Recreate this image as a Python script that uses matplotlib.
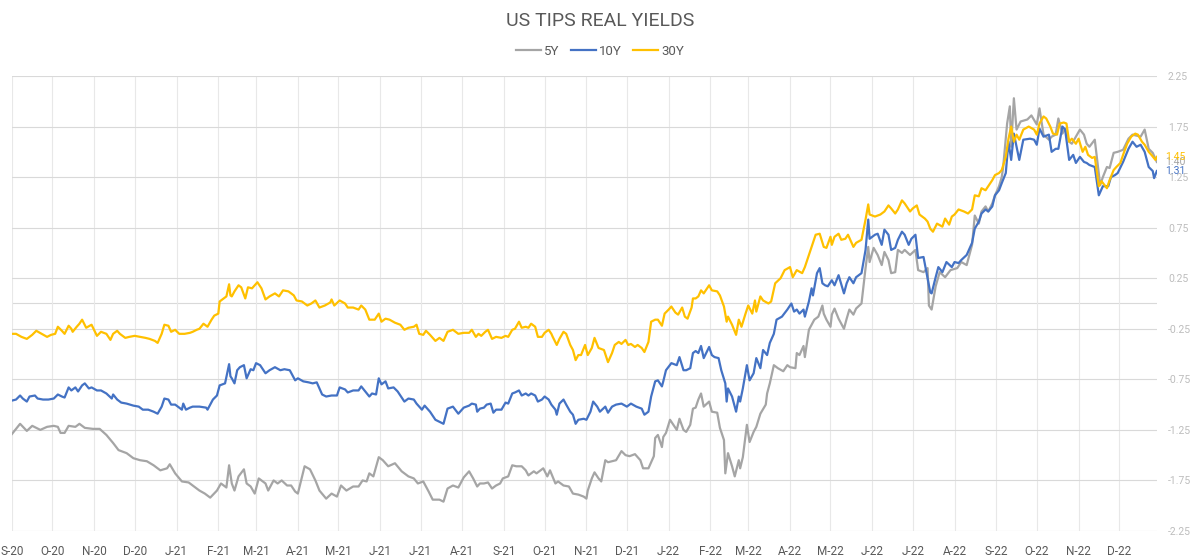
import numpy as np
import pandas as pd
from matplotlib import pyplot as plt

# series: day offset from 1 Sep 2020, real yield in %
start = pd.Timestamp("2020-09-01")

days_5y = [0, 6, 11, 15, 21, 26, 31, 34, 36, 39, 42, 47, 50, 54, 60, 65, 70, 75, 79, 85,
           90, 95, 100, 105, 110, 115, 117, 121, 126, 131, 134, 139, 143, 147, 152, 155, 159, 161, 163, 165,
           168, 172, 174, 177, 180, 183, 188, 190, 194, 197, 200, 204, 207, 210, 212, 217, 221, 225, 228, 233,
           237, 241, 244, 248, 253, 257, 260, 263, 265, 268, 272, 275, 279, 284, 289, 294, 298, 301, 305, 309,
           312, 317, 320, 323, 327, 331, 335, 339, 342, 345, 347, 350, 353, 356, 359, 362, 364, 368, 371, 374,
           378, 381, 383, 387, 389, 392, 394, 397, 399, 403, 405, 409, 413, 416, 420, 424, 426, 427, 430, 432,
           435, 437, 440, 442, 445, 448, 452, 455, 458, 462, 466, 468, 472, 476, 477, 479, 482, 483, 485, 488,
           490, 493, 495, 498, 500, 503, 505, 507, 509, 511, 513, 517, 519, 523, 525, 528, 529, 531, 534, 536,
           539, 540, 542, 545, 547, 550, 552, 555, 559, 560, 562, 565, 568, 572, 575, 577, 581, 582, 584, 587,
           588, 591, 595, 598, 601, 602, 604, 607, 608, 610, 613, 617, 619, 621, 624, 626, 630, 633, 635, 636,
           639, 642, 645, 647, 650, 652, 655, 657, 660, 662, 666, 670, 672, 676, 679, 680, 682, 685, 688, 692,
           696, 701, 704, 708, 712, 714, 717, 719, 722, 724, 727, 729, 732, 734, 735, 738, 740, 741, 743, 745,
           748, 753, 756, 760, 762, 765, 769, 771, 774, 776, 779, 781, 784, 786, 789, 792, 795, 797, 799, 803,
           807, 809, 812, 814, 817, 820, 824, 828, 831, 837, 840, 843, 846, 849]
yld_5y = [-1.29, -1.19, -1.26, -1.21, -1.25, -1.22, -1.21, -1.22, -1.28, -1.28, -1.21, -1.22, -1.19, -1.23, -1.24, -1.24, -1.30, -1.38, -1.45, -1.48,
          -1.53, -1.55, -1.56, -1.60, -1.65, -1.63, -1.59, -1.68, -1.76, -1.77, -1.80, -1.85, -1.88, -1.92, -1.85, -1.78, -1.82, -1.60, -1.78, -1.85,
          -1.71, -1.64, -1.78, -1.81, -1.88, -1.73, -1.78, -1.85, -1.75, -1.78, -1.75, -1.80, -1.80, -1.86, -1.88, -1.61, -1.64, -1.75, -1.85, -1.93,
          -1.88, -1.91, -1.80, -1.85, -1.81, -1.81, -1.75, -1.76, -1.68, -1.71, -1.52, -1.55, -1.61, -1.58, -1.66, -1.71, -1.73, -1.78, -1.76, -1.86,
          -1.94, -1.94, -1.96, -1.83, -1.80, -1.82, -1.72, -1.66, -1.73, -1.81, -1.78, -1.78, -1.77, -1.83, -1.80, -1.78, -1.73, -1.71, -1.60, -1.61,
          -1.61, -1.65, -1.70, -1.66, -1.68, -1.65, -1.63, -1.71, -1.65, -1.78, -1.76, -1.80, -1.81, -1.88, -1.89, -1.91, -1.93, -1.85, -1.73, -1.67,
          -1.73, -1.76, -1.55, -1.57, -1.56, -1.55, -1.46, -1.50, -1.51, -1.49, -1.55, -1.63, -1.63, -1.51, -1.33, -1.30, -1.42, -1.32, -1.28, -1.15,
          -1.19, -1.25, -1.14, -1.25, -1.27, -1.20, -1.04, -1.03, -0.95, -0.89, -1.02, -0.97, -1.07, -1.08, -1.23, -1.35, -1.68, -1.48, -1.61, -1.71,
          -1.55, -1.63, -1.52, -1.20, -1.37, -1.27, -1.22, -1.09, -1.00, -0.89, -0.79, -0.61, -0.64, -0.67, -0.61, -0.63, -0.64, -0.49, -0.51, -0.42,
          -0.53, -0.26, -0.16, -0.13, -0.02, -0.10, -0.16, -0.23, -0.11, -0.05, -0.15, -0.25, -0.15, -0.06, -0.11, -0.05, 0.00, 0.35, 0.56, 0.41,
          0.55, 0.48, 0.38, 0.51, 0.43, 0.30, 0.31, 0.53, 0.50, 0.53, 0.48, 0.53, 0.33, 0.31, 0.35, -0.02, -0.06, 0.17, 0.31, 0.26,
          0.33, 0.35, 0.41, 0.38, 0.58, 0.87, 0.79, 0.91, 0.96, 0.91, 0.99, 1.07, 1.16, 1.25, 1.34, 1.78, 1.95, 1.55, 2.03, 1.72,
          1.80, 1.82, 1.86, 1.77, 1.93, 1.67, 1.62, 1.65, 1.67, 1.83, 1.68, 1.73, 1.60, 1.58, 1.65, 1.72, 1.67, 1.58, 1.55, 1.62,
          1.17, 1.25, 1.35, 1.34, 1.49, 1.50, 1.52, 1.63, 1.67, 1.65, 1.72, 1.53, 1.49, 1.40]

days_10y = [0, 3, 6, 8, 11, 13, 17, 19, 23, 27, 31, 34, 37, 39, 42, 44, 47, 49, 52, 54,
            57, 59, 63, 66, 70, 74, 75, 78, 81, 85, 90, 94, 97, 101, 105, 108, 111, 113, 116, 118,
            121, 126, 127, 129, 132, 134, 139, 144, 145, 149, 152, 154, 158, 161, 162, 163, 165, 167, 169, 172,
            174, 177, 179, 181, 184, 188, 191, 195, 199, 202, 206, 210, 212, 216, 220, 223, 226, 230, 233, 237,
            241, 243, 247, 249, 253, 257, 259, 262, 265, 267, 270, 272, 274, 277, 279, 283, 286, 291, 294, 298,
            300, 304, 306, 310, 314, 317, 320, 323, 327, 331, 335, 339, 341, 344, 345, 347, 350, 352, 355, 357,
            359, 363, 366, 368, 371, 373, 376, 378, 381, 383, 385, 388, 390, 393, 395, 398, 400, 403, 404, 406,
            409, 411, 414, 416, 418, 420, 424, 426, 429, 431, 434, 436, 440, 442, 445, 448, 452, 456, 459, 463,
            467, 469, 472, 474, 477, 479, 482, 483, 485, 489, 493, 495, 498, 500, 503, 505, 507, 509, 511, 513,
            517, 519, 521, 524, 526, 529, 530, 531, 534, 537, 539, 540, 542, 545, 547, 550, 552, 555, 557, 560,
            562, 565, 567, 571, 575, 578, 580, 582, 584, 587, 588, 591, 593, 594, 597, 599, 601, 603, 605, 608,
            610, 613, 617, 619, 621, 624, 626, 630, 633, 635, 636, 640, 642, 645, 647, 650, 652, 655, 657, 660,
            662, 665, 667, 670, 672, 676, 680, 681, 682, 685, 687, 690, 693, 697, 699, 702, 704, 708, 712, 714,
            717, 719, 722, 724, 727, 729, 732, 734, 737, 739, 741, 743, 745, 747, 750, 755, 758, 760, 762, 765,
            769, 771, 774, 776, 779, 781, 784, 787, 789, 792, 795, 797, 799, 803, 806, 809, 813, 815, 818, 820,
            824, 828, 831, 834, 837, 840, 843, 846, 847, 849]
yld_10y = [-0.96, -0.95, -0.91, -0.94, -0.97, -0.92, -0.91, -0.94, -0.95, -0.95, -0.94, -0.90, -0.92, -0.93, -0.83, -0.86, -0.83, -0.87, -0.81, -0.79,
           -0.84, -0.83, -0.86, -0.86, -0.89, -0.94, -0.90, -0.95, -0.98, -0.99, -1.01, -1.02, -1.05, -1.05, -1.07, -1.09, -1.02, -0.94, -0.95, -1.00,
           -1.00, -1.05, -0.99, -1.05, -1.03, -1.02, -1.02, -1.03, -1.05, -0.95, -0.91, -0.81, -0.79, -0.60, -0.72, -0.74, -0.79, -0.66, -0.63, -0.61,
           -0.74, -0.65, -0.66, -0.59, -0.61, -0.69, -0.66, -0.63, -0.66, -0.65, -0.66, -0.76, -0.74, -0.77, -0.78, -0.79, -0.78, -0.90, -0.92, -0.91,
           -0.91, -0.83, -0.85, -0.88, -0.86, -0.86, -0.82, -0.87, -0.92, -0.89, -0.90, -0.74, -0.80, -0.77, -0.84, -0.83, -0.87, -0.97, -0.94, -0.95,
           -0.99, -1.05, -1.01, -1.07, -1.15, -1.17, -1.19, -1.04, -1.02, -1.09, -1.03, -1.01, -0.99, -1.00, -1.07, -1.04, -1.03, -1.00, -0.99, -1.08,
           -1.05, -1.05, -0.98, -0.99, -0.89, -0.88, -0.86, -0.91, -0.89, -0.91, -0.89, -0.91, -0.97, -0.95, -0.92, -0.95, -1.00, -1.05, -1.10, -0.99,
           -0.95, -1.00, -1.07, -1.10, -1.19, -1.15, -1.14, -1.15, -1.07, -0.97, -1.02, -1.07, -1.02, -1.08, -1.02, -1.00, -0.99, -1.02, -0.99, -1.02,
           -1.04, -1.10, -1.07, -0.92, -0.77, -0.76, -0.82, -0.77, -0.66, -0.59, -0.61, -0.53, -0.66, -0.66, -0.64, -0.49, -0.47, -0.49, -0.42, -0.54,
           -0.43, -0.51, -0.53, -0.54, -0.66, -0.79, -0.97, -0.84, -0.92, -1.07, -0.92, -0.97, -0.84, -0.61, -0.76, -0.69, -0.54, -0.64, -0.46, -0.51,
           -0.39, -0.30, -0.16, -0.13, -0.06, 0.00, -0.08, -0.06, -0.10, -0.06, -0.13, 0.02, 0.15, 0.08, 0.30, 0.35, 0.20, 0.18, 0.17, 0.23,
           0.18, 0.28, 0.10, 0.20, 0.26, 0.20, 0.26, 0.30, 0.53, 0.83, 0.64, 0.68, 0.69, 0.58, 0.73, 0.68, 0.53, 0.55, 0.63, 0.71,
           0.68, 0.58, 0.64, 0.68, 0.45, 0.46, 0.18, 0.11, 0.10, 0.26, 0.36, 0.31, 0.41, 0.36, 0.41, 0.40, 0.43, 0.48, 0.60, 0.74,
           0.81, 0.89, 0.93, 0.91, 0.96, 1.07, 1.12, 1.19, 1.29, 1.60, 1.42, 1.68, 1.55, 1.42, 1.62, 1.63, 1.62, 1.57, 1.73, 1.65,
           1.67, 1.50, 1.53, 1.53, 1.75, 1.72, 1.42, 1.47, 1.39, 1.45, 1.40, 1.39, 1.37, 1.35, 1.07, 1.16, 1.16, 1.25, 1.27, 1.29,
           1.40, 1.53, 1.60, 1.55, 1.57, 1.50, 1.35, 1.31, 1.24, 1.31]

days_30y = [0, 3, 7, 11, 15, 18, 22, 26, 29, 32, 34, 37, 39, 42, 44, 45, 48, 50, 52, 55,
            59, 63, 66, 70, 73, 75, 78, 80, 84, 87, 91, 95, 99, 102, 106, 108, 111, 113, 116, 118,
            121, 124, 128, 132, 134, 137, 139, 142, 145, 148, 150, 153, 154, 157, 159, 161, 162, 163, 165, 168,
            170, 173, 175, 178, 180, 182, 185, 188, 191, 195, 198, 201, 205, 209, 211, 215, 219, 222, 225, 228,
            232, 236, 237, 239, 243, 247, 249, 253, 257, 259, 262, 265, 269, 272, 274, 277, 280, 284, 288, 291,
            294, 298, 300, 302, 305, 307, 310, 314, 317, 320, 323, 327, 331, 335, 339, 341, 344, 346, 348, 351,
            353, 356, 359, 363, 366, 368, 371, 373, 376, 378, 381, 383, 385, 388, 390, 393, 395, 398, 400, 401,
            404, 406, 409, 411, 414, 416, 418, 420, 422, 425, 427, 430, 432, 435, 439, 442, 445, 447, 450, 452,
            455, 457, 459, 462, 464, 467, 469, 472, 474, 477, 479, 482, 484, 487, 489, 492, 494, 497, 499, 501,
            504, 505, 507, 509, 511, 513, 517, 519, 523, 525, 528, 530, 531, 534, 537, 539, 541, 544, 546, 549,
            551, 552, 555, 557, 561, 563, 566, 570, 573, 577, 579, 582, 586, 588, 591, 593, 596, 599, 602, 604,
            607, 608, 610, 613, 615, 618, 620, 624, 626, 630, 633, 635, 636, 640, 644, 647, 650, 652, 655, 657,
            660, 662, 666, 668, 671, 673, 677, 679, 681, 683, 686, 690, 692, 695, 697, 699, 702, 706, 709, 712,
            714, 717, 719, 722, 724, 727, 729, 732, 734, 737, 739, 741, 743, 745, 747, 750, 754, 758, 760, 762,
            765, 767, 770, 772, 775, 777, 780, 782, 784, 786, 789, 791, 794, 796, 798, 801, 803, 806, 808, 812,
            814, 817, 819, 822, 824, 827, 830, 833, 835, 838, 840, 843, 845, 848, 849]
yld_30y = [-0.30, -0.30, -0.33, -0.35, -0.31, -0.27, -0.30, -0.33, -0.31, -0.30, -0.23, -0.27, -0.30, -0.22, -0.25, -0.28, -0.23, -0.20, -0.16, -0.24,
           -0.21, -0.32, -0.28, -0.30, -0.36, -0.30, -0.27, -0.30, -0.34, -0.33, -0.32, -0.33, -0.34, -0.35, -0.37, -0.39, -0.30, -0.21, -0.22, -0.28,
           -0.26, -0.30, -0.30, -0.29, -0.28, -0.26, -0.25, -0.20, -0.23, -0.16, -0.12, -0.10, 0.02, 0.05, 0.07, 0.19, 0.08, 0.07, 0.12, 0.18,
           0.16, 0.05, 0.16, 0.15, 0.18, 0.21, 0.15, 0.04, 0.07, 0.10, 0.07, 0.13, 0.12, 0.08, 0.03, 0.02, -0.02, 0.00, 0.03, -0.04,
           -0.02, 0.01, 0.04, -0.02, 0.03, 0.00, -0.04, -0.04, -0.06, -0.02, -0.06, -0.16, -0.16, -0.10, -0.18, -0.15, -0.16, -0.19, -0.21, -0.26,
           -0.24, -0.23, -0.21, -0.30, -0.31, -0.27, -0.31, -0.37, -0.34, -0.37, -0.28, -0.26, -0.30, -0.29, -0.29, -0.26, -0.33, -0.30, -0.32, -0.28,
           -0.26, -0.35, -0.33, -0.34, -0.32, -0.33, -0.26, -0.25, -0.18, -0.24, -0.23, -0.24, -0.20, -0.23, -0.33, -0.33, -0.29, -0.26, -0.30, -0.33,
           -0.41, -0.35, -0.28, -0.30, -0.41, -0.46, -0.56, -0.51, -0.51, -0.41, -0.51, -0.44, -0.34, -0.44, -0.46, -0.58, -0.49, -0.41, -0.38, -0.40,
           -0.36, -0.41, -0.40, -0.43, -0.41, -0.44, -0.48, -0.38, -0.18, -0.16, -0.16, -0.22, -0.10, -0.06, -0.03, -0.09, -0.11, -0.04, -0.13, -0.15,
           -0.04, 0.05, 0.05, 0.07, 0.13, 0.10, 0.18, 0.13, 0.12, 0.08, -0.03, -0.18, -0.13, -0.21, -0.31, -0.16, -0.23, -0.10, -0.02, -0.10,
           0.03, -0.08, 0.07, 0.03, 0.00, 0.02, 0.20, 0.25, 0.33, 0.36, 0.26, 0.33, 0.30, 0.36, 0.48, 0.56, 0.68, 0.69, 0.56, 0.55,
           0.66, 0.58, 0.66, 0.69, 0.63, 0.64, 0.68, 0.56, 0.60, 0.63, 0.83, 0.98, 0.88, 0.86, 0.88, 0.91, 0.97, 0.94, 0.89, 0.93,
           1.02, 0.99, 0.91, 0.94, 0.97, 0.88, 0.84, 0.81, 0.74, 0.71, 0.79, 0.76, 0.84, 0.78, 0.86, 0.88, 0.93, 0.91, 0.89, 0.93,
           1.07, 1.06, 1.14, 1.12, 1.16, 1.22, 1.27, 1.29, 1.32, 1.45, 1.63, 1.75, 1.60, 1.67, 1.62, 1.72, 1.75, 1.72, 1.67, 1.78,
           1.85, 1.83, 1.75, 1.68, 1.67, 1.78, 1.79, 1.78, 1.60, 1.63, 1.58, 1.63, 1.50, 1.55, 1.47, 1.44, 1.45, 1.16, 1.21, 1.14,
           1.22, 1.32, 1.35, 1.39, 1.47, 1.58, 1.65, 1.68, 1.67, 1.60, 1.57, 1.50, 1.47, 1.42, 1.45]

series_names = ["5Y", "10Y", "30Y"]
series_colors = ["#A5A5A5", "#4472C4", "#FFC000"]
y_ticks = [2.25, 1.75, 1.25, 0.75, 0.25, -0.25, -0.75, -1.25, -1.75, -2.25]

plt.rcParams['font.family'] = ['Roboto', 'DejaVu Sans']

fig = plt.figure(figsize=(12, 5.58), dpi=100)
ax = fig.add_axes([0.01, 0.0484, 0.954, 0.8154])

all_days = [days_5y, days_10y, days_30y]
all_vals = [yld_5y, yld_10y, yld_30y]

for d, v, name, col in zip(all_days, all_vals, series_names, series_colors):
    dates = start + pd.to_timedelta(d, unit="D")
    ax.plot(dates, v, color=col, lw=1.6, label=name)

# end-of-series value labels (they sit on top of the axis labels, as in the original)
for d, v, col in zip(all_days, all_vals, series_colors):
    ax.annotate(f"{v[-1]:.2f}", xy=(start + pd.Timedelta(days=d[-1]), v[-1]),
                xytext=(6, 0), textcoords="offset points", va="center", ha="left",
                color=col, fontsize=7.5, annotation_clip=False)

# axes
ax.set_ylim(-2.25, 2.25)
ax.set_xlim(start, start + pd.Timedelta(days=849))
ax.set_yticks(y_ticks)
ax.set_yticklabels([f"{t:.2f}" for t in y_ticks])
ax.yaxis.tick_right()

months = pd.date_range("2020-09-01", "2022-12-01", freq="MS")
ax.set_xticks(months)
ax.set_xticklabels([m.strftime("%b")[0] + "-" + m.strftime("%y") for m in months])

for s in ['top', 'bottom', 'left', 'right']:
    ax.spines[s].set_visible(False)
ax.tick_params(axis='y', length=0, pad=8, labelsize=7.5, labelcolor="#BDBDBD")
ax.tick_params(axis='x', length=0, pad=10, labelsize=8.5, labelcolor="#595959")

ax.grid(axis='y', color="#D9D9D9", lw=0.8)
ax.grid(axis='x', color="#E8E8E8", lw=0.8)
ax.axhline(0, color="#D9D9D9", lw=0.8, zorder=0)
ax.set_axisbelow(True)

fig.text(0.5, 0.962, "US TIPS REAL YIELDS", ha="center", va="center",
         fontsize=14, color="#595959")
fig.legend(loc="center", bbox_to_anchor=(0.5, 0.908), ncol=3, frameon=False,
           fontsize=9.5, labelcolor="#595959", handlelength=1.9, handletextpad=0.2,
           columnspacing=0.9)

fig.savefig("out.png", dpi=100)
